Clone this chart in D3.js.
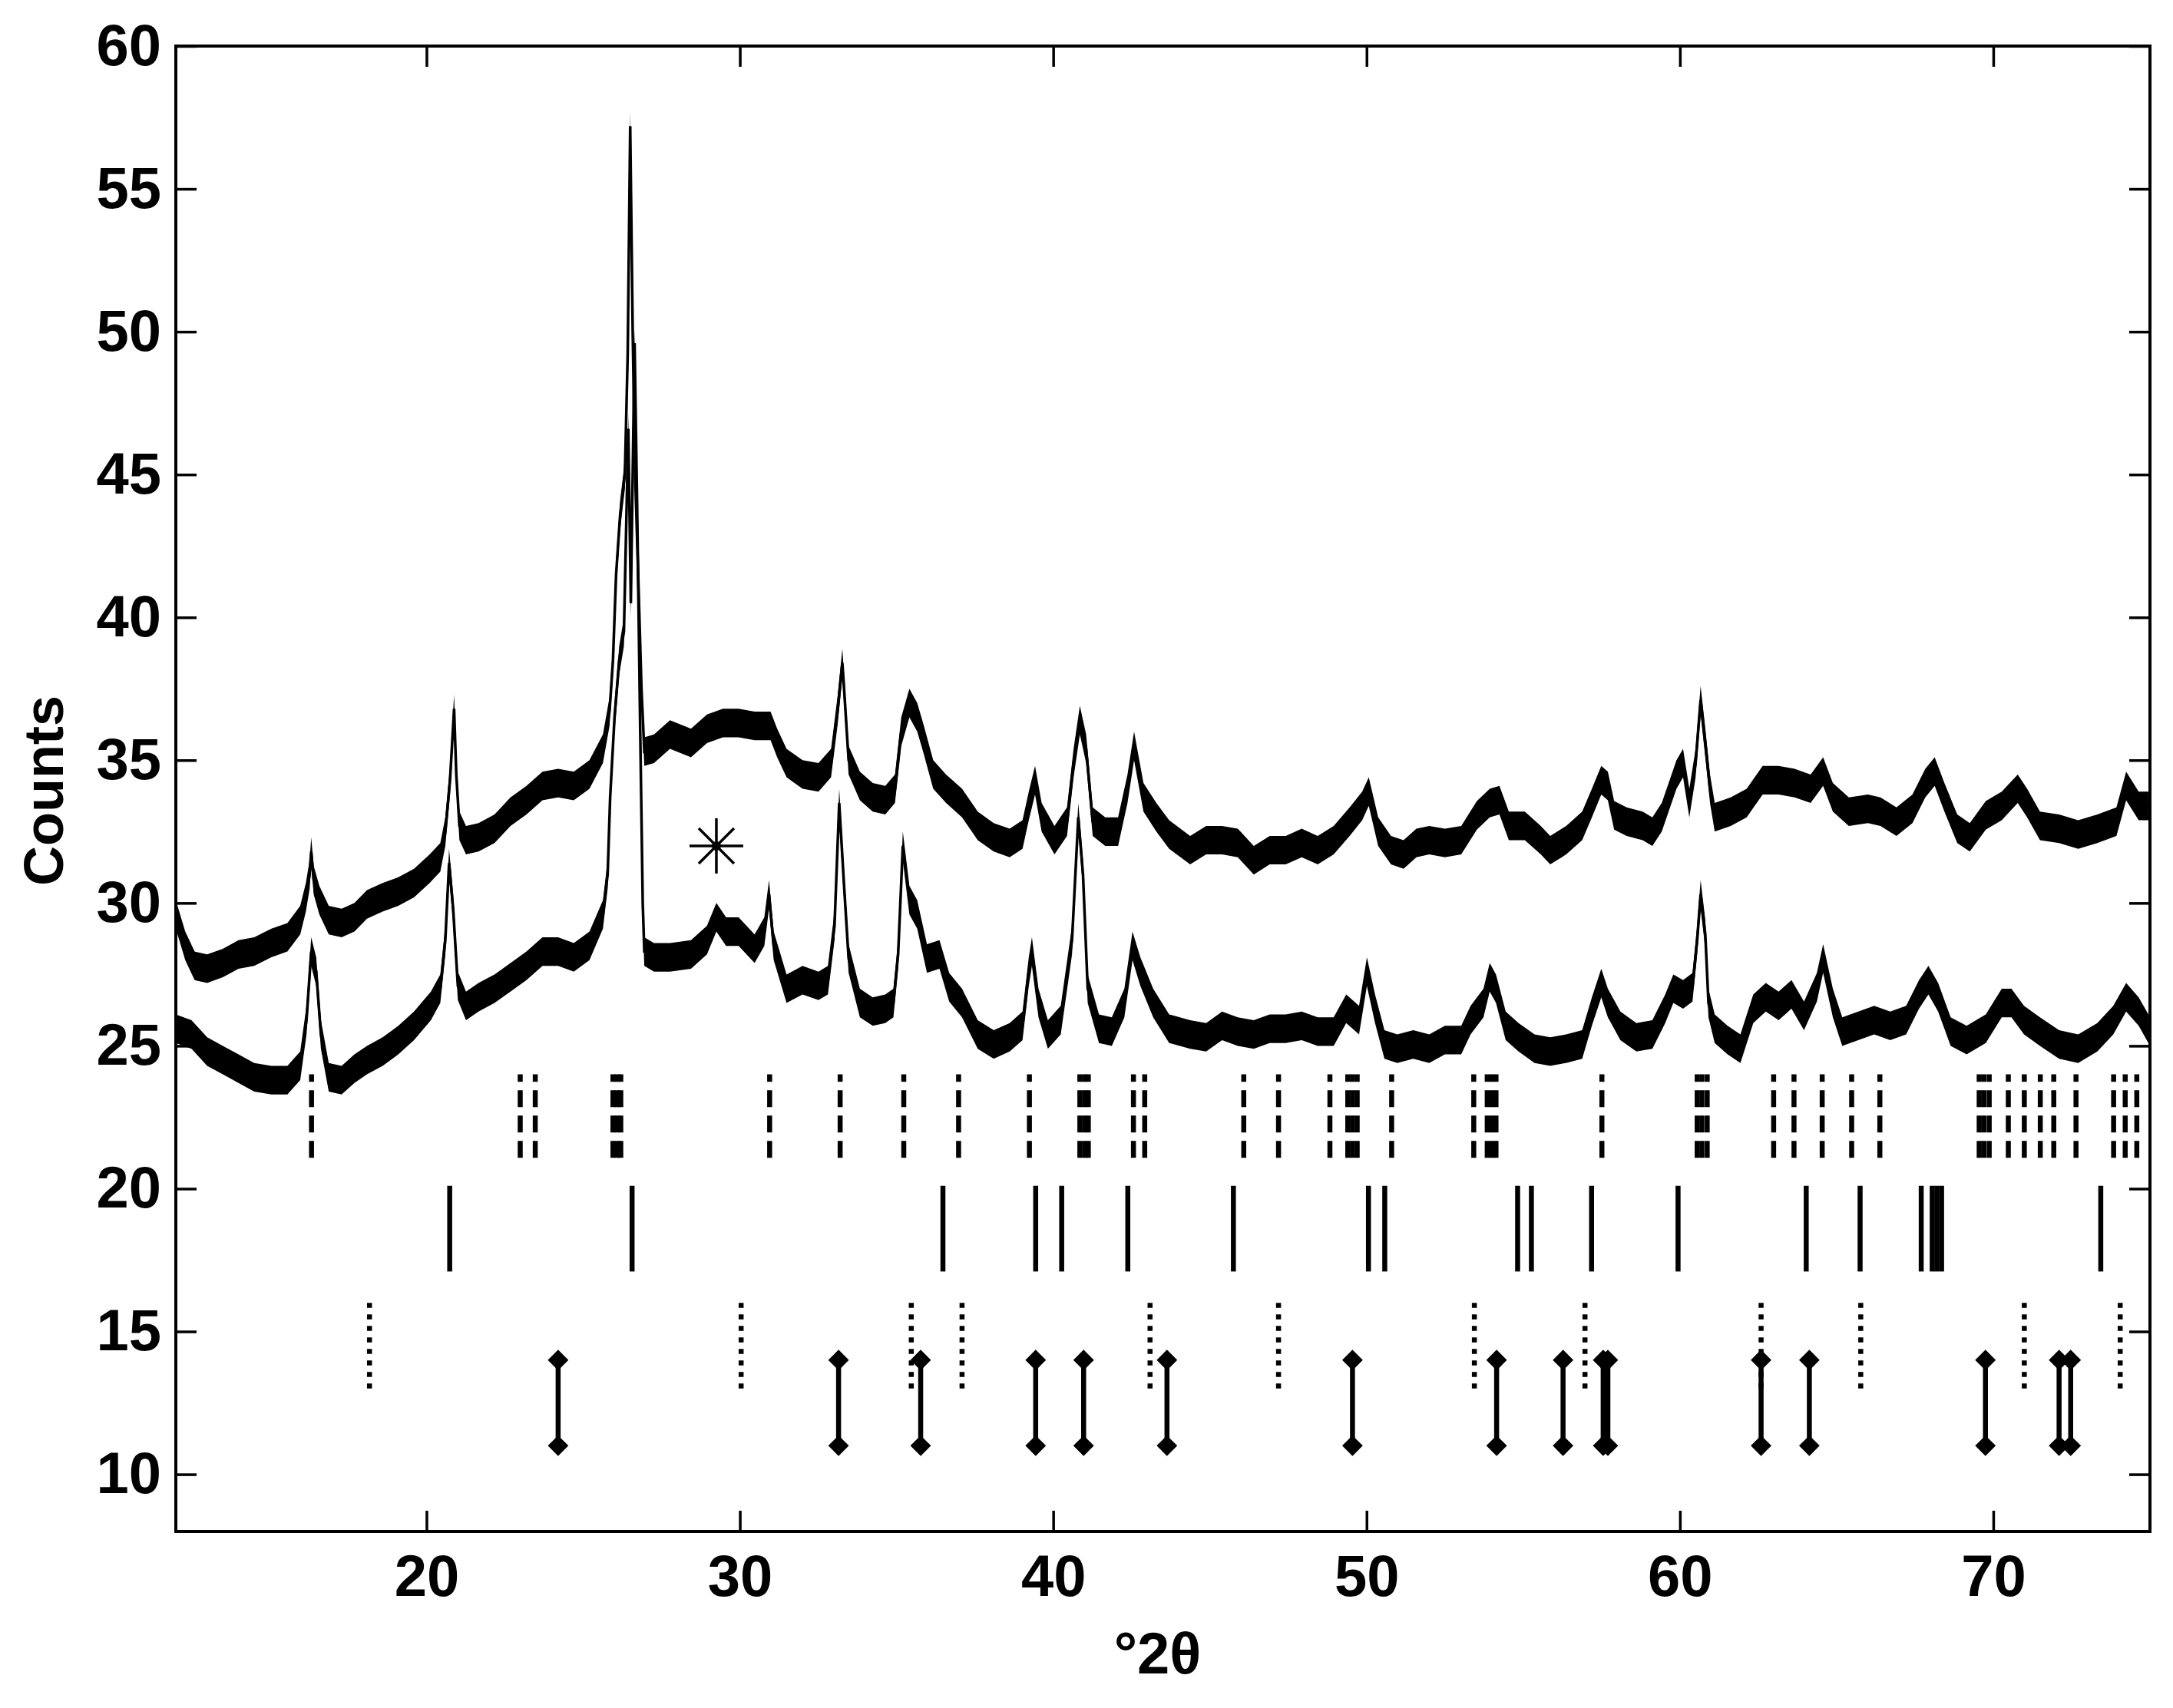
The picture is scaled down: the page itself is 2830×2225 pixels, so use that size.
<!DOCTYPE html>
<html>
<head>
<meta charset="utf-8">
<script src="https://cdn.jsdelivr.net/npm/d3@7"></script>
<style>
html,body{margin:0;padding:0;background:#fff;}
svg{display:block;}
text{font-family:"Liberation Sans",Arial,sans-serif;font-weight:bold;fill:#000;}
</style>
</head>
<body>
<svg id="chart" width="2830" height="2225"></svg>
<script>
// ---------- data ----------
const xTicks = [20, 30, 40, 50, 60, 70];
const yTicks = [10, 15, 20, 25, 30, 35, 40, 45, 50, 55, 60];
const xLabel = "°2θ";
const yLabel = "Counts";

// upper pattern: [2θ, counts]
const upperX = [12.0,12.3,12.6,13.0,13.5,14.0,14.5,15.05,15.56,15.97,16.15,16.27,16.32,16.4,16.58,16.88,17.29,17.7,18.1,18.6,19.1,19.6,20.1,20.44,20.6,20.75,20.88,20.95,21.05,21.26,21.66,22.17,22.68,23.19,23.7,24.2,24.7,25.2,25.63,25.84,25.95,26.05,26.18,26.33,26.42,26.5,26.58,26.65,26.76,26.86,26.95,27.26,27.77,28.44,28.95,29.46,29.96,30.47,30.98,31.19,31.49,32.0,32.51,32.91,33.12,33.27,33.32,33.47,33.83,34.24,34.64,34.95,35.15,35.41,35.66,35.86,36.17,36.58,37.09,37.59,38.1,38.61,39.02,39.22,39.42,39.63,40.04,40.44,40.65,40.85,41.05,41.26,41.66,42.07,42.37,42.58,42.88,43.29,43.7,44.37,44.88,45.39,45.89,46.4,46.91,47.42,47.93,48.44,48.95,49.46,49.86,50.07,50.37,50.78,51.18,51.59,52.0,52.5,53.02,53.52,53.93,54.24,54.54,55.05,55.56,55.86,56.37,56.88,57.19,57.49,57.7,57.9,58.3,58.81,59.12,59.42,59.89,60.1,60.3,60.5,60.66,60.81,60.96,61.11,61.62,62.13,62.64,63.15,63.66,64.17,64.57,64.88,65.39,66.0,66.4,66.91,67.42,67.83,68.13,68.44,68.85,69.25,69.76,70.27,70.78,71.08,71.49,72.1,72.71,73.32,73.93,74.24,74.64,74.95];
const upperY = [29.6,28.5,27.8,27.7,27.9,28.2,28.3,28.6,28.8,29.4,30.2,31.0,31.8,30.8,30.1,29.4,29.3,29.5,29.95,30.2,30.4,30.7,31.2,31.6,32.5,34.3,36.8,34.5,32.7,32.2,32.3,32.6,33.2,33.6,34.1,34.2,34.1,34.5,35.4,36.7,38.5,41.5,43.6,45.0,49.2,57.2,50.0,45.3,41.3,37.5,35.3,35.4,35.9,35.6,36.1,36.3,36.3,36.2,36.2,35.6,34.9,34.5,34.4,34.9,36.75,38.4,37.6,35.0,34.1,33.7,33.6,34.0,36.0,37.0,36.5,35.75,34.5,34.0,33.5,32.7,32.3,32.1,32.4,33.4,34.3,33.0,32.2,32.85,34.9,36.4,35.4,32.85,32.5,32.5,34.0,35.5,33.7,33.0,32.4,31.85,32.2,32.2,32.1,31.5,31.85,31.85,32.1,31.85,32.2,32.85,33.4,33.9,32.5,31.85,31.7,32.1,32.2,32.1,32.2,33.07,33.5,33.6,32.7,32.7,32.2,31.85,32.2,32.7,33.5,34.3,34.1,33.07,32.85,32.7,32.5,33.0,34.5,34.9,33.5,34.9,37.1,35.6,34.0,33.0,33.2,33.5,34.3,34.3,34.2,34.0,34.6,33.7,33.2,33.3,33.2,32.85,33.3,34.2,34.6,33.7,32.6,32.3,33.07,33.4,34.0,33.5,32.7,32.6,32.4,32.6,32.85,34.1,33.4,33.4];

// lower pattern: [2θ, counts]
const lowerX = [12.0,12.5,13.0,13.5,14.0,14.5,15.05,15.56,15.97,16.17,16.32,16.48,16.63,16.88,17.29,17.7,18.1,18.6,19.1,19.6,20.14,20.44,20.6,20.72,20.85,21.0,21.26,21.66,22.17,22.68,23.19,23.7,24.2,24.7,25.2,25.63,25.78,25.86,26.0,26.15,26.3,26.44,26.52,26.64,26.72,26.82,26.9,26.95,27.26,27.77,28.44,28.95,29.25,29.56,29.96,30.47,30.78,30.93,31.08,31.49,32.0,32.51,32.81,33.02,33.17,33.32,33.47,33.83,34.24,34.64,34.9,35.05,35.2,35.41,35.66,35.97,36.37,36.68,37.09,37.59,38.1,38.61,39.02,39.22,39.32,39.53,39.83,40.24,40.6,40.8,40.95,41.1,41.46,41.87,42.27,42.53,42.78,43.19,43.7,44.37,44.88,45.39,45.89,46.4,46.91,47.42,47.93,48.44,48.95,49.35,49.76,50.01,50.27,50.57,50.98,51.49,52.0,52.5,53.02,53.32,53.73,53.93,54.13,54.44,54.85,55.36,55.86,56.37,56.88,57.19,57.49,57.7,58.1,58.61,59.12,59.53,59.79,60.1,60.4,60.55,60.66,60.81,60.91,61.11,61.52,61.93,62.34,62.74,63.15,63.56,63.96,64.37,64.57,64.88,65.18,65.69,66.2,66.71,67.22,67.63,67.93,68.24,68.64,69.15,69.76,70.27,70.58,70.98,71.49,72.1,72.71,73.32,73.83,74.24,74.64,74.95];
const lowerY = [25.6,25.4,24.8,24.5,24.2,23.9,23.8,23.8,24.3,25.9,28.3,27.6,25.4,23.9,23.8,24.2,24.5,24.8,25.2,25.7,26.4,27.0,28.7,31.4,29.8,27.1,26.4,26.7,27.0,27.4,27.8,28.3,28.3,28.1,28.5,29.6,31.0,33.7,36.5,38.5,39.5,46.6,40.5,49.6,44.0,36.0,30.0,28.3,28.1,28.1,28.2,28.7,29.5,29.0,29.0,28.4,29.0,30.3,28.5,27.0,27.3,27.1,27.3,29.2,33.5,30.7,28.06,26.5,26.2,26.3,26.5,28.2,32.0,30.1,29.6,28.06,28.2,27.05,26.5,25.4,25.05,25.3,25.7,27.6,28.3,26.5,25.4,25.9,28.7,33.0,31.0,27.0,25.6,25.5,26.5,28.5,27.6,26.5,25.6,25.4,25.3,25.7,25.5,25.4,25.6,25.6,25.7,25.5,25.5,26.3,25.9,27.6,26.3,25.05,24.9,25.05,24.9,25.2,25.2,25.9,26.5,27.4,27.0,25.7,25.3,24.9,24.8,24.9,25.05,26.2,27.2,26.5,25.7,25.3,25.4,26.3,27.0,26.8,27.05,28.7,30.3,28.9,26.5,25.6,25.2,24.9,26.3,26.7,26.4,26.8,26.05,27.05,28.06,26.5,25.5,25.7,25.9,25.7,25.9,26.8,27.3,26.7,25.5,25.2,25.6,26.5,26.5,25.9,25.5,25.05,24.9,25.3,25.9,26.7,26.2,25.6];

// reference phase stick positions (2θ)
const dashedSticks = [16.33,22.99,23.47,25.95,26.08,26.2,30.95,33.2,35.23,36.98,39.24,40.85,41.0,41.12,42.56,42.92,46.08,47.19,48.83,49.4,49.55,49.7,50.8,53.42,53.85,54.0,54.13,57.51,60.55,60.7,60.87,62.99,63.64,64.54,65.48,66.38,69.55,69.7,69.87,70.48,70.99,71.5,71.93,72.64,73.84,74.21,74.58];
const solidSticks = [20.74,26.56,36.48,39.44,40.27,42.38,45.75,50.06,50.58,54.82,55.26,57.18,59.94,64.03,65.75,67.7,68.05,68.2,68.35,73.43];
const dottedSticks = [18.18,30.04,35.47,37.09,43.09,47.19,53.44,56.97,62.59,65.77,70.99,74.05];
const diamondSticks = [24.2,33.15,35.77,39.44,40.97,43.63,49.55,54.15,56.27,57.55,57.7,62.59,64.13,69.75,72.1,72.47];

// stick row ranges in counts [bottom, top]
const dashedRange = [21.08, 24.0];
const solidRange = [17.1, 20.1];
const dottedRange = [13.0, 16.0];
const diamondRange = [11.0, 14.0];

// asterisk marker
const asterisk = [29.25, 32.0];

// ---------- drawing ----------
const svg = d3.select("#chart");
const L = 229, R = 2800, T = 60, B = 1995;
const x = d3.scaleLinear().domain([12, 75]).range([L, R]);
const y = d3.scaleLinear().domain([8, 60]).range([B, T]);

const band = 0.5; // visual noise half-thickness (counts)

function drawTrace(xs, ys) {
  const pts = xs.map((v, i) => [v, ys[i]]);
  const area = d3.area().x(d => x(d[0])).y0(d => y(d[1] - band)).y1(d => y(d[1] + band));
  svg.append("path").datum(pts).attr("d", area).attr("fill", "#000");
  const line = d3.line().x(d => x(d[0])).y(d => y(d[1]));
  svg.append("path").datum(pts).attr("d", line)
    .attr("fill", "none").attr("stroke", "#000").attr("stroke-width", 3.5)
    .attr("stroke-linejoin", "miter");
}
drawTrace(upperX, upperY);
drawTrace(lowerX, lowerY);

// sticks
const sw = 6.5;
svg.append("g").selectAll("line").data(dashedSticks).join("line")
  .attr("x1", d => x(d)).attr("x2", d => x(d))
  .attr("y1", y(dashedRange[0])).attr("y2", y(dashedRange[1]))
  .attr("stroke", "#000").attr("stroke-width", sw).attr("stroke-dasharray", "22,11");
svg.append("g").selectAll("line").data(solidSticks).join("line")
  .attr("x1", d => x(d)).attr("x2", d => x(d))
  .attr("y1", y(solidRange[0])).attr("y2", y(solidRange[1]))
  .attr("stroke", "#000").attr("stroke-width", sw);
svg.append("g").selectAll("line").data(dottedSticks).join("line")
  .attr("x1", d => x(d)).attr("x2", d => x(d))
  .attr("y1", y(dottedRange[1])).attr("y2", y(dottedRange[0]))
  .attr("stroke", "#000").attr("stroke-width", sw).attr("stroke-dasharray", "6.5,8.5");
const dg = svg.append("g");
dg.selectAll("line").data(diamondSticks).join("line")
  .attr("x1", d => x(d)).attr("x2", d => x(d))
  .attr("y1", y(diamondRange[0])).attr("y2", y(diamondRange[1]))
  .attr("stroke", "#000").attr("stroke-width", sw);
const diamond = d3.symbol().type(d3.symbolSquare).size(360)();
diamondRange.forEach(r => {
  dg.append("g").selectAll("path").data(diamondSticks).join("path")
    .attr("d", diamond)
    .attr("transform", d => `translate(${x(d)},${y(r)}) rotate(45)`)
    .attr("fill", "#000");
});

// asterisk
const ax = x(asterisk[0]), ay = y(asterisk[1]);
const ag = svg.append("g").attr("transform", `translate(${ax},${ay})`)
  .attr("stroke", "#000").attr("stroke-width", 3.5);
ag.append("line").attr("x1", -35).attr("x2", 35).attr("y1", 0).attr("y2", 0);
ag.append("line").attr("x1", 0).attr("x2", 0).attr("y1", -36).attr("y2", 36);
ag.append("line").attr("x1", -23).attr("x2", 23).attr("y1", -23).attr("y2", 23);
ag.append("line").attr("x1", -23).attr("x2", 23).attr("y1", 23).attr("y2", -23);
ag.append("circle").attr("r", 6).attr("fill", "#000").attr("stroke", "none");

// frame
svg.append("rect").attr("x", L).attr("y", T).attr("width", R - L).attr("height", B - T)
  .attr("fill", "none").attr("stroke", "#000").attr("stroke-width", 4);

// axes
const fs = 76;
const tl = 27;
function styleAxis(g, showText) {
  g.select(".domain").remove();
  g.selectAll(".tick line").attr("stroke", "#000").attr("stroke-width", 3.5);
  g.selectAll(".tick text").attr("font-size", fs).attr("font-family", '"Liberation Sans",Arial,sans-serif')
    .attr("font-weight", "bold").attr("fill", "#000");
  if (!showText) g.selectAll(".tick text").remove();
}
svg.append("g").attr("transform", `translate(0,${B})`)
  .call(d3.axisBottom(x).tickValues(xTicks).tickFormat(d3.format("d")).tickSizeInner(-tl).tickSizeOuter(0).tickPadding(30))
  .call(g => styleAxis(g, true));
svg.append("g").attr("transform", `translate(0,${T})`)
  .call(d3.axisTop(x).tickValues(xTicks).tickSizeInner(-tl).tickSizeOuter(0))
  .call(g => styleAxis(g, false));
svg.append("g").attr("transform", `translate(${L},0)`)
  .call(d3.axisLeft(y).tickValues(yTicks).tickFormat(d3.format("d")).tickSizeInner(-tl).tickSizeOuter(0).tickPadding(19))
  .call(g => styleAxis(g, true));
svg.append("g").attr("transform", `translate(${R},0)`)
  .call(d3.axisRight(y).tickValues(yTicks).tickSizeInner(-tl).tickSizeOuter(0))
  .call(g => styleAxis(g, false));

// labels
svg.append("text").attr("x", (L + R) / 2 - 7).attr("y", 2180)
  .attr("text-anchor", "middle").attr("font-size", fs).text(xLabel);
svg.append("text").attr("transform", `translate(82,1030) rotate(-90)`)
  .attr("text-anchor", "middle").attr("font-size", 72).text(yLabel);
</script>
</body>
</html>
